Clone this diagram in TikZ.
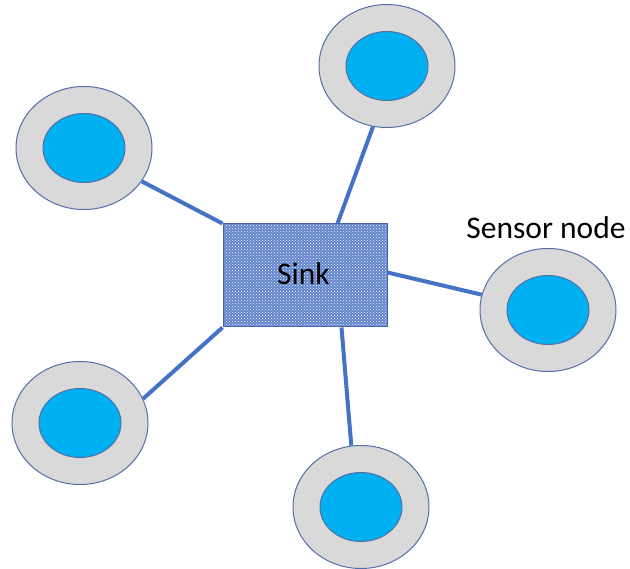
\documentclass[tikz,border=0pt]{standalone}
\usepackage{fontspec}
\setmainfont{Carlito}
\usetikzlibrary{shapes.geometric,patterns}

\definecolor{ringgray}{RGB}{217,217,217}
\definecolor{corecyan}{RGB}{0,176,240}
\definecolor{rimblue}{RGB}{84,110,168}
\definecolor{linkblue}{RGB}{68,114,196}
\definecolor{sinkblue}{RGB}{96,132,205}
\definecolor{sinkedge}{RGB}{70,100,170}

\tikzset{
  outer/.style={ellipse, draw=rimblue, line width=1pt, fill=ringgray,
    minimum width=136pt, minimum height=123pt, inner sep=0pt},
  core/.style={ellipse, draw=rimblue, line width=1pt, fill=corecyan,
    minimum width=82pt, minimum height=69pt, inner sep=0pt},
  link/.style={linkblue, line width=4pt},
  sinkbox/.style={draw=sinkedge, line width=1pt, fill=sinkblue,
    minimum width=164pt, minimum height=103pt, inner sep=0pt,
    path picture={\fill[pattern=crosshatch dots, pattern color=white]
      (path picture bounding box.south west) rectangle
      (path picture bounding box.north east);}},
  lbl/.style={font=\fontsize{31.5}{36}\selectfont, inner sep=0pt}
}

\begin{document}
\begin{tikzpicture}[x=1pt, y=-1pt]
  \useasboundingbox (0,0) rectangle (630,569);

  % sensor nodes: grey ring with a cyan core
  \node[outer] (top) at (387,66) {};
  \node[core]  (topc) at (387,66) {};
  \node[outer] (lt) at (84,148) {};
  \node[core]  (ltc) at (84,148) {};
  \node[outer] (rt) at (548,310) {};
  \node[core]  (rtc) at (548,310) {};
  \node[outer] (lb) at (80,423) {};
  \node[core]  (lbc) at (80,423) {};
  \node[outer] (bt) at (361,507) {};
  \node[core]  (btc) at (361,507) {};

  % sink
  \node[sinkbox] (sink) at (305,275.5) {};
  \node[lbl] (sinklbl) at (303.5,274) {Sink};

  % attachment points on the sink border
  \coordinate (sinktop) at ([xshift=115pt]sink.north west);
  \coordinate (sinkright) at ([yshift=-49pt]sink.north east);
  \coordinate (sinkbot) at ([xshift=119pt]sink.south west);

  % links
  \draw[link] (sink.north west) -- (lt.-30);
  \draw[link] (sinktop) -- (top.-103.6);
  \draw[link] (sinkright) -- (rt.167);
  \draw[link] (sinkbot) -- (bt.99.3);
  \draw[link] (sink.south west) -- (lb.21);

  % label
  \node[lbl] (sensorlbl) at (546,228) {Sensor node};
\end{tikzpicture}
\end{document}
